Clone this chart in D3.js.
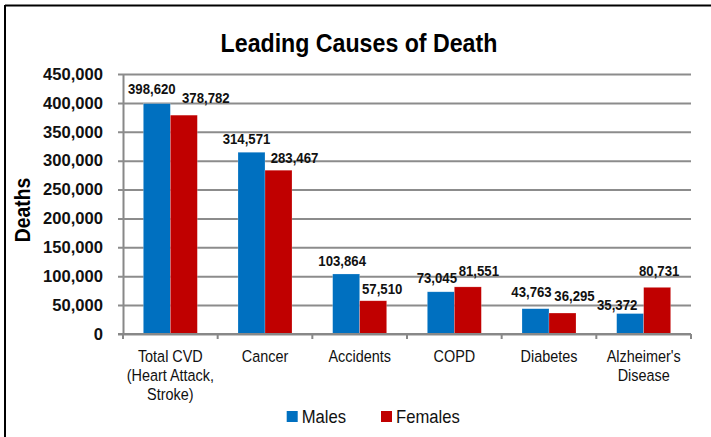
<!DOCTYPE html>
<html>
<head>
<meta charset="utf-8">
<script src="https://cdn.jsdelivr.net/npm/d3@7"></script>
<style>
  html, body { margin: 0; padding: 0; background: #fff; }
  svg { display: block; font-family: "Liberation Sans", Arial, sans-serif; }
</style>
</head>
<body>
<svg id="chart" width="711" height="437"></svg>
<script>
// Leading causes of death by sex
const categories = ["Total CVD\n(Heart Attack,\nStroke)", "Cancer", "Accidents", "COPD", "Diabetes", "Alzheimer's\nDisease"];
const males   = [398620, 314571, 103864, 73045, 43763, 35372];
const females = [378782, 283467, 57510, 81551, 36295, 80731];
const seriesNames = ["Males", "Females"];
const yTicks = [0, 50000, 100000, 150000, 200000, 250000, 300000, 350000, 400000, 450000];

// Hand-placed nudges for the value labels (dx, dy from the bar top centre)
const maleLabelNudge   = [[-5, -10], [-5, -8], [-4, -8], [-4, -9], [-4, -12], [-13, -4]];
const femaleLabelNudge = [[22, -12], [16, -7], [9, -7], [11, -11], [12, -12], [2, -11]];

const colors = ["#0070C0", "#C00000"];
const svg = d3.select("#chart");

// frame (top and left edges)
svg.append("line").attr("x1", 5).attr("x2", 711).attr("y1", 5.5).attr("y2", 5.5)
  .attr("stroke", "#000").attr("stroke-width", 2);
svg.append("line").attr("x1", 5).attr("x2", 5).attr("y1", 5).attr("y2", 437)
  .attr("stroke", "#000").attr("stroke-width", 2);

const plot = { left: 123, right: 691, top: 74, bottom: 334 };

const x = d3.scaleBand().domain(d3.range(categories.length))
  .range([plot.left, plot.right]).paddingInner(0).paddingOuter(0);
const y = d3.scaleLinear().domain([0, 450000]).range([plot.bottom, plot.top]);
const groupW = 54;
const xs = d3.scaleBand().domain([0, 1]).range([0, groupW]);

// horizontal gridlines with left tick stubs
const yAxis = d3.axisLeft(y).tickValues(yTicks)
  .tickSize(-(plot.right - plot.left)).tickSizeOuter(0).tickPadding(20)
  .tickFormat(d3.format(","));
const gy = svg.append("g").attr("transform", `translate(${plot.left},0)`).call(yAxis);
gy.select(".domain").attr("stroke", "#888").attr("stroke-width", 2);
gy.selectAll(".tick line").attr("stroke", "#8c8c8c").attr("stroke-width", 2)
  .attr("x1", -5);
gy.selectAll(".tick text").attr("font-size", 16.6).attr("font-weight", "bold")
  .attr("fill", "#111");

// bars
const g = svg.append("g");
const groups = g.selectAll(".grp").data(categories).join("g")
  .attr("transform", (d, i) => `translate(${x(i) + (x.bandwidth() - groupW) / 2},0)`);
groups.selectAll("rect").data((d, i) => [males[i], females[i]]).join("rect")
  .attr("x", (d, j) => xs(j))
  .attr("width", xs.bandwidth())
  .attr("y", d => y(d))
  .attr("height", d => y(0) - y(d))
  .attr("fill", (d, j) => colors[j])
  .attr("stroke", "#fff").attr("stroke-opacity", 0.35).attr("stroke-width", 0.6);

// x axis with tick marks at category boundaries
const xBounds = d3.range(categories.length + 1).map(i => plot.left + i * x.bandwidth());
svg.append("line").attr("x1", plot.left - 5).attr("x2", plot.right).attr("y1", y(0)).attr("y2", y(0))
  .attr("stroke", "#888").attr("stroke-width", 2);
svg.selectAll(".xtick").data(xBounds).join("line")
  .attr("x1", d => d).attr("x2", d => d).attr("y1", y(0)).attr("y2", y(0) + 5)
  .attr("stroke", "#888").attr("stroke-width", 2);

// category labels
const cat = svg.selectAll(".cat").data(categories).join("g")
  .attr("transform", (d, i) => `translate(${x(i) + x.bandwidth() / 2},361.5) scale(0.885,1)`);
cat.each(function(d) {
  const t = d3.select(this).append("text").attr("text-anchor", "middle")
    .attr("font-size", 16.3).attr("fill", "#111");
  d.split("\n").forEach((line, k) => {
    t.append("tspan").attr("x", 0).attr("y", k * 19.2).text(line);
  });
});

// value labels
const fmt = d3.format(",");
[males, females].forEach((vals, j) => {
  const nudge = j === 0 ? maleLabelNudge : femaleLabelNudge;
  svg.selectAll(".val" + j).data(vals).join("g")
    .attr("transform", (d, i) => {
      const cx = x(i) + (x.bandwidth() - groupW) / 2 + xs(j) + xs.bandwidth() / 2 + nudge[i][0];
      return `translate(${cx},${y(d) + nudge[i][1]}) scale(0.88,1)`;
    })
    .append("text").attr("text-anchor", "middle")
    .attr("font-size", 15).attr("font-weight", "bold").attr("fill", "#111")
    .text(d => fmt(d));
});

// title
svg.append("g").attr("transform", "translate(359,51.7) scale(0.875,1)")
  .append("text").attr("text-anchor", "middle")
  .attr("font-size", 26.5).attr("font-weight", "bold").attr("fill", "#000")
  .text("Leading Causes of Death");

// y axis title
svg.append("g").attr("transform", "translate(30,210) rotate(-90) scale(0.88,1)")
  .append("text").attr("text-anchor", "middle")
  .attr("font-size", 22).attr("font-weight", "bold").attr("fill", "#000")
  .text("Deaths");

// legend
const legendX = [286.7, 381];
const lg = svg.selectAll(".leg").data(seriesNames).join("g")
  .attr("transform", (d, i) => `translate(${legendX[i]},411)`);
lg.append("rect").attr("width", 11).attr("height", 11).attr("fill", (d, i) => colors[i]);
lg.append("g").attr("transform", "translate(15,12.3) scale(0.9,1)")
  .append("text").attr("font-size", 18.5).attr("fill", "#111").text(d => d);
</script>
</body>
</html>
